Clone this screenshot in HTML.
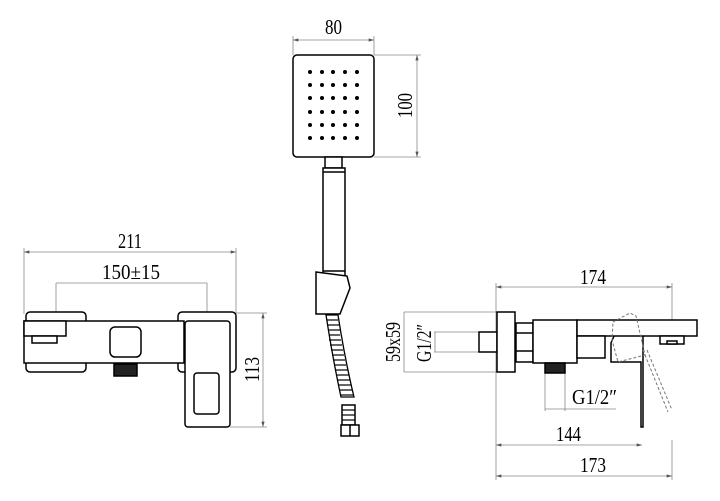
<!DOCTYPE html>
<html><head><meta charset="utf-8"><style>
html,body{margin:0;padding:0;background:#fff}
svg{display:block}
text{font-family:"Liberation Serif",serif;font-size:21px;fill:#000}
</style></head><body>
<svg width="720" height="501" viewBox="0 0 720 501" xmlns="http://www.w3.org/2000/svg">
<defs>
<marker id="a" viewBox="0 0 10 6" refX="10" refY="3" markerWidth="8" markerHeight="4" orient="auto-start-reverse"><path d="M0,0L10,3L0,6z" fill="#555"/></marker>
</defs>
<g stroke="#888" stroke-width="0.8" fill="none">
<line x1="24" y1="252" x2="236" y2="252" marker-start="url(#a)" marker-end="url(#a)"/>
<line x1="24" y1="248" x2="24" y2="314"/><line x1="236" y1="248" x2="236" y2="314"/>
<line x1="56" y1="283" x2="207" y2="283"/>
<line x1="56" y1="283" x2="56" y2="313"/><line x1="207" y1="283" x2="207" y2="313"/>
<line x1="263" y1="313" x2="263" y2="427" marker-start="url(#a)" marker-end="url(#a)"/>
<line x1="236" y1="313" x2="267" y2="313"/><line x1="230" y1="427" x2="267" y2="427"/>
<line x1="293" y1="40" x2="374" y2="40" marker-start="url(#a)" marker-end="url(#a)"/>
<line x1="293" y1="36" x2="293" y2="55"/><line x1="374" y1="36" x2="374" y2="55"/>
<line x1="417" y1="55" x2="417" y2="157" marker-start="url(#a)" marker-end="url(#a)"/>
<line x1="374" y1="55" x2="421" y2="55"/><line x1="374" y1="157" x2="421" y2="157"/>
<line x1="496" y1="287" x2="672" y2="287" marker-start="url(#a)" marker-end="url(#a)"/>
<line x1="496" y1="283" x2="496" y2="480"/><line x1="672" y1="283" x2="672" y2="336"/><line x1="672" y1="440" x2="672" y2="480"/>
<line x1="404" y1="312" x2="497" y2="312"/><line x1="404" y1="372" x2="497" y2="372"/>
<line x1="404" y1="312" x2="404" y2="372"/>
<line x1="434" y1="332" x2="479" y2="332"/><line x1="434" y1="352" x2="479" y2="352"/>
<line x1="435" y1="332" x2="435" y2="352"/>
<line x1="545" y1="373" x2="545" y2="411"/><line x1="565" y1="373" x2="565" y2="411"/>
<line x1="545" y1="409" x2="616" y2="409"/>
<line x1="496" y1="445" x2="642" y2="445" marker-start="url(#a)" marker-end="url(#a)"/>
<line x1="496" y1="476" x2="672" y2="476" marker-start="url(#a)" marker-end="url(#a)"/>
</g>
<g lengthAdjust="spacingAndGlyphs">
<text x="118" y="248" textLength="24" lengthAdjust="spacingAndGlyphs">211</text>
<text x="102" y="279" textLength="58" lengthAdjust="spacingAndGlyphs">150±15</text>
<text transform="translate(259,382) rotate(-90)" textLength="25" lengthAdjust="spacingAndGlyphs">113</text>
<text x="325" y="34" textLength="17" lengthAdjust="spacingAndGlyphs">80</text>
<text transform="translate(412,118) rotate(-90)" textLength="25" lengthAdjust="spacingAndGlyphs">100</text>
<text x="580" y="284" textLength="26" lengthAdjust="spacingAndGlyphs">174</text>
<text transform="translate(400,362) rotate(-90)" textLength="40" lengthAdjust="spacingAndGlyphs">59x59</text>
<text transform="translate(431,362) rotate(-90)" textLength="38" lengthAdjust="spacingAndGlyphs">G1/2″</text>
<text x="572" y="404" textLength="45" lengthAdjust="spacingAndGlyphs">G1/2″</text>
<text x="556" y="441" textLength="25" lengthAdjust="spacingAndGlyphs">144</text>
<text x="580" y="472" textLength="26" lengthAdjust="spacingAndGlyphs">173</text>
</g>
<g stroke="#000" stroke-width="1.5" fill="#fff">
<rect x="26" y="312" width="60" height="60" rx="4"/>
<rect x="178" y="312" width="58" height="60" rx="4"/>
<rect x="24" y="321" width="160" height="42"/>
<rect x="24" y="321" width="42" height="15"/>
<rect x="32" y="336" width="25" height="7"/>
<rect x="110" y="327" width="31" height="30" rx="5"/>
<rect x="114" y="364" width="23" height="12" fill="#222"/>
<rect x="185" y="321" width="45" height="106" rx="3"/>
<rect x="194" y="373" width="25" height="41" rx="3"/>
<rect x="293" y="55" width="81" height="102" rx="4"/>
<rect x="325" y="157" width="17" height="11"/>
<rect x="323" y="168" width="22" height="109"/>
<line x1="323" y1="172" x2="345" y2="172"/><line x1="323" y1="271" x2="345" y2="271"/>
<polygon points="316,272 347,276 350,288 340,314 316,314"/>
<rect x="342" y="405" width="13" height="20"/>
<rect x="341" y="425" width="18" height="11"/>
<line x1="350" y1="425" x2="350" y2="436"/>
<rect x="479" y="332" width="18" height="20"/>
<rect x="497" y="312" width="18" height="60"/>
<rect x="516" y="323" width="17" height="39"/>
<line x1="516" y1="333" x2="533" y2="333"/><line x1="516" y1="351" x2="533" y2="351"/>
<rect x="533" y="320" width="44" height="43"/>
<rect x="545" y="363" width="20" height="10" fill="#222"/>
<rect x="577" y="320" width="120" height="16"/>
<rect x="577" y="336" width="28" height="22"/>
<rect x="660" y="336" width="24" height="8"/>
<rect x="667" y="341" width="10" height="3"/>
<path d="M614,336 L611,343 L611,362 L641,362 L641,427 L643,427 L643,336" fill="none"/>
</g>
<g stroke="#777" stroke-width="1" fill="none" stroke-dasharray="3,2">
<path d="M613,322 L630,313 L636,316 L645,355 L618,362 L612,340 Z"/>
<path d="M643,350 L668,412"/><path d="M647,350 L672,410"/>
</g>
<g fill="#000">
<circle cx="310" cy="72" r="2"/><circle cx="322" cy="72" r="2"/><circle cx="333" cy="72" r="2"/><circle cx="345" cy="72" r="2"/><circle cx="357" cy="72" r="2"/>
<circle cx="310" cy="85" r="2"/><circle cx="322" cy="85" r="2"/><circle cx="333" cy="85" r="2"/><circle cx="345" cy="85" r="2"/><circle cx="357" cy="85" r="2"/>
<circle cx="310" cy="98" r="2"/><circle cx="322" cy="98" r="2"/><circle cx="333" cy="98" r="2"/><circle cx="345" cy="98" r="2"/><circle cx="357" cy="98" r="2"/>
<circle cx="310" cy="112" r="2"/><circle cx="322" cy="112" r="2"/><circle cx="333" cy="112" r="2"/><circle cx="345" cy="112" r="2"/><circle cx="357" cy="112" r="2"/>
<circle cx="310" cy="125" r="2"/><circle cx="322" cy="125" r="2"/><circle cx="333" cy="125" r="2"/><circle cx="345" cy="125" r="2"/><circle cx="357" cy="125" r="2"/>
<circle cx="310" cy="138" r="2"/><circle cx="322" cy="138" r="2"/><circle cx="333" cy="138" r="2"/><circle cx="345" cy="138" r="2"/><circle cx="357" cy="138" r="2"/>
</g>
<path d="M326,315 Q333,360 341,397 L354,397 Q345,360 338,315 Z" fill="#fff" stroke="#000" stroke-width="1.3"/>
<g stroke="#000" stroke-width="1.2">
<line x1="327" y1="320" x2="338" y2="320"/><line x1="327" y1="325" x2="339" y2="325"/><line x1="328" y1="330" x2="340" y2="330"/><line x1="329" y1="335" x2="340" y2="335"/><line x1="329" y1="340" x2="341" y2="340"/><line x1="330" y1="345" x2="342" y2="345"/><line x1="331" y1="350" x2="343" y2="350"/><line x1="332" y1="355" x2="344" y2="355"/><line x1="333" y1="360" x2="345" y2="360"/><line x1="334" y1="365" x2="346" y2="365"/><line x1="335" y1="370" x2="348" y2="370"/><line x1="336" y1="375" x2="349" y2="375"/><line x1="337" y1="380" x2="350" y2="380"/><line x1="338" y1="385" x2="351" y2="385"/><line x1="339" y1="390" x2="352" y2="390"/><line x1="340" y1="395" x2="354" y2="395"/>
<line x1="342" y1="410" x2="355" y2="410"/><line x1="342" y1="415" x2="355" y2="415"/><line x1="342" y1="420" x2="355" y2="420"/>
</g>
</svg>
</body></html>
